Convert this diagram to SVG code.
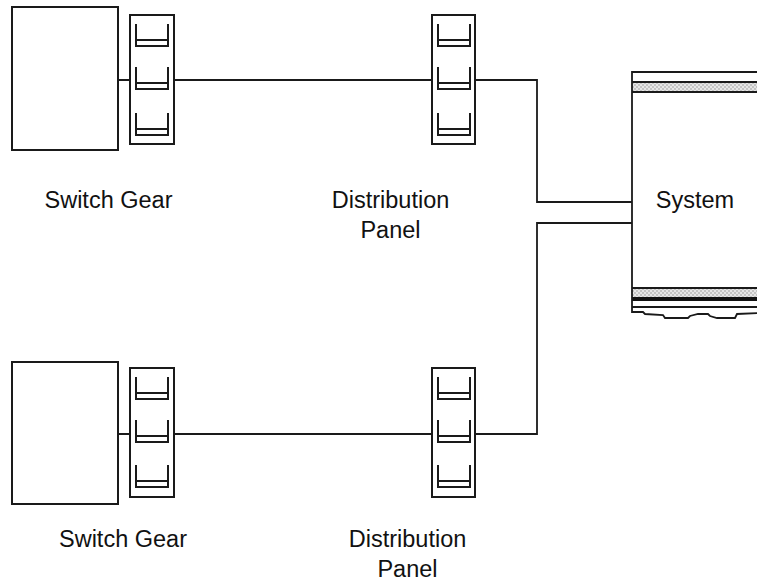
<svg xmlns="http://www.w3.org/2000/svg" width="757" height="582" viewBox="0 0 757 582">
<defs>
<pattern id="dots" width="4" height="4" patternUnits="userSpaceOnUse">
<rect width="4" height="4" fill="#c4c4c4"/>
<rect width="2" height="2" fill="#e6e6e6"/>
<rect x="2" y="2" width="2" height="2" fill="#e6e6e6"/>
</pattern>
<g id="cup"><path d="M0,0 V22 H32 V0 M0,16 H32" fill="none" stroke="#1a1a1a" stroke-width="2"/></g>
</defs>
<style>
.box{fill:#fff;stroke:#1a1a1a;stroke-width:2}
.wire{fill:none;stroke:#1a1a1a;stroke-width:1.8}
.lbl{font-family:"Liberation Sans",Arial,sans-serif;font-size:23.5px;fill:#111;text-anchor:middle}
</style>
<rect width="757" height="582" fill="#fff"/>
<g id="connectors">
<path class="wire" d="M118,80 H130 M174,80 H432 M475,80 H537 V202 H632"/>
<path class="wire" d="M118,434 H130 M174,434 H432 M475,434 H537 V223 H632"/>
</g>
<g id="switchgear1">
<rect class="box" x="12" y="7" width="106" height="143"/>
<rect class="box" x="130" y="15" width="44" height="129"/>
<use href="#cup" x="136" y="24"/>
<use href="#cup" x="136" y="67"/>
<use href="#cup" x="136" y="113"/>
<text class="lbl" x="108.5" y="208">Switch Gear</text>
</g>
<g id="panel1">
<rect class="box" x="432" y="15" width="43" height="129"/>
<use href="#cup" x="438" y="24"/>
<use href="#cup" x="438" y="67"/>
<use href="#cup" x="438" y="113"/>
<text class="lbl" x="390.5" y="208">Distribution</text>
<text class="lbl" x="390.5" y="238">Panel</text>
</g>
<g id="switchgear2">
<rect class="box" x="12" y="362" width="106" height="142"/>
<rect class="box" x="130" y="368" width="44" height="129"/>
<use href="#cup" x="136" y="377"/>
<use href="#cup" x="136" y="420"/>
<use href="#cup" x="136" y="465"/>
<text class="lbl" x="123" y="547">Switch Gear</text>
</g>
<g id="panel2">
<rect class="box" x="432" y="368" width="43" height="129"/>
<use href="#cup" x="438" y="377"/>
<use href="#cup" x="438" y="420"/>
<use href="#cup" x="438" y="465"/>
<text class="lbl" x="407.5" y="547">Distribution</text>
<text class="lbl" x="407.5" y="577">Panel</text>
</g>
<g id="system">
<rect x="632" y="82" width="130" height="10" fill="url(#dots)"/>
<rect x="632" y="288" width="130" height="9" fill="url(#dots)"/>
<rect x="632" y="297" width="130" height="4" fill="#111"/>
<path class="wire" d="M760,72 H632 V312 H643 L645,314 L663,315 L665,318 H688 L690,316 L698,314 H708 L710,316 L717,318 H735 L737,314 L760,313"/>
<path class="wire" d="M632,82 H760 M632,92 H760 M632,288 H760 M632,307 H760"/>
<text class="lbl" x="695" y="208">System</text>
</g>
</svg>
